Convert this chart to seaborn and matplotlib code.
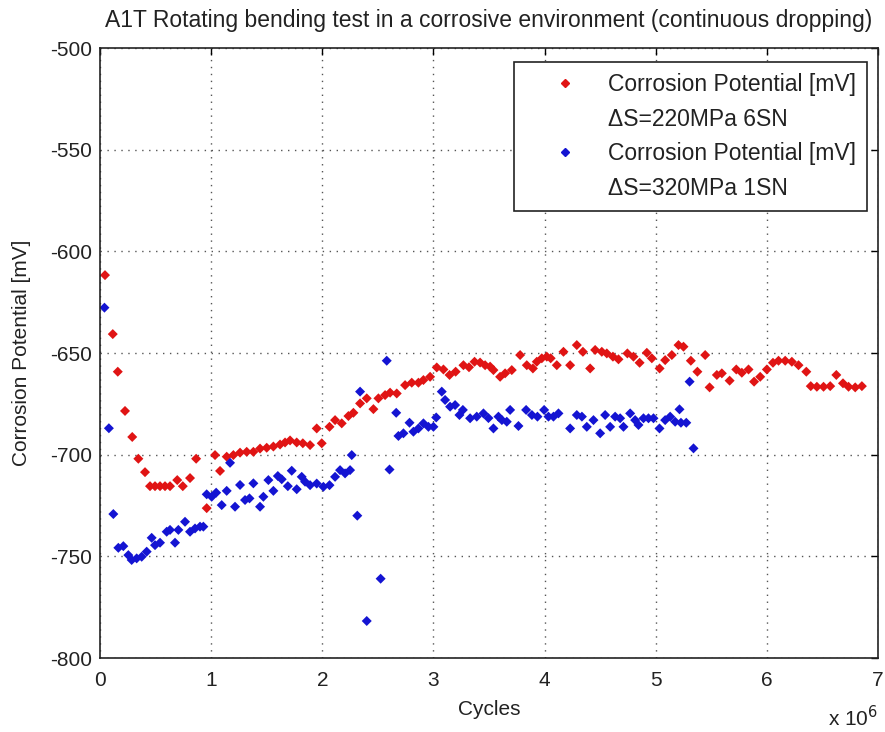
import numpy as np
import pandas as pd
import matplotlib
matplotlib.use("Agg")
import matplotlib.pyplot as plt
import seaborn as sns
from matplotlib.lines import Line2D

# ---- data (cycles in millions, potential in mV) ----
red_x = [0.045, 0.115, 0.16, 0.225, 0.29, 0.345, 0.405, 0.45, 0.495, 0.54, 0.585, 0.63,
         0.695, 0.745, 0.81, 0.865, 0.96, 1.035, 1.08, 1.14, 1.2, 1.26, 1.32, 1.38, 1.44,
         1.5, 1.56, 1.62, 1.665, 1.71, 1.77, 1.825, 1.89, 1.95, 1.995, 2.065, 2.115, 2.175,
         2.235, 2.28, 2.34, 2.4, 2.46, 2.505, 2.565, 2.61, 2.67, 2.745, 2.805, 2.865, 2.91,
         2.97, 3.03, 3.09, 3.145, 3.2, 3.27, 3.32, 3.37, 3.42, 3.465, 3.51, 3.54, 3.6, 3.645,
         3.705, 3.78, 3.84, 3.895, 3.93, 3.975, 4.02, 4.055, 4.11, 4.17, 4.23, 4.29, 4.345,
         4.41, 4.455, 4.515, 4.56, 4.615, 4.665, 4.745, 4.80, 4.855, 4.92, 4.965, 5.035,
         5.085, 5.145, 5.205, 5.25, 5.316, 5.375, 5.445, 5.485, 5.55, 5.595, 5.665, 5.725,
         5.775, 5.835, 5.885, 5.94, 6.0, 6.055, 6.105, 6.165, 6.225, 6.285, 6.355, 6.395,
         6.45, 6.51, 6.57, 6.625, 6.685, 6.735, 6.795, 6.855]
red_y = [-611.7, -640.7, -659.2, -678.5, -691.3, -702, -708.6, -715.5, -715.5, -715.5, -715.5,
         -715.5, -712.5, -715.5, -711.5, -702, -726.3, -700.2, -708, -701, -700.2, -699,
         -698.6, -698.6, -697, -696.6, -696, -695, -694, -693, -694, -694.4, -695.3, -687.1,
         -694.4, -686.3, -683, -684.6, -681, -679.4, -674.8, -672.3, -677.6, -672.3, -670.7,
         -669.5, -669.9, -665.8, -664.6, -664.6, -663.3, -661.7, -657.1, -658.1, -660.8,
         -659.2, -656, -657, -654.3, -654.7, -656, -656.7, -658.4, -661.7, -660, -658.4, -651,
         -656, -657.6, -654.3, -652.6, -651.8, -652.6, -656, -649.4, -656, -646.1, -649.4,
         -657.6, -648.5, -649.4, -650.2, -651.8, -653.1, -650.2, -651.8, -654.8, -649.9,
         -652.6, -657.6, -653.5, -651, -646.1, -646.9, -653.8, -659.2, -651, -666.9, -660.8,
         -660, -663.6, -658.1, -659.7, -658.1, -664.1, -661.7, -658.1, -654.8, -653.8,
         -653.8, -654.3, -656, -659.2, -666.3, -666.6, -666.6, -666.3, -660.8, -664.9,
         -666.6, -666.9, -666.3]

blue_x = [0.04, 0.08, 0.12, 0.165, 0.21, 0.255, 0.285, 0.33, 0.375, 0.42, 0.465, 0.495, 0.54,
          0.6, 0.63, 0.675, 0.705, 0.765, 0.81, 0.855, 0.9, 0.93, 0.96, 1.005, 1.045, 1.095,
          1.14, 1.17, 1.215, 1.26, 1.305, 1.345, 1.38, 1.44, 1.47, 1.515, 1.56, 1.6, 1.635,
          1.69, 1.725, 1.77, 1.815, 1.845, 1.89, 1.95, 2.01, 2.065, 2.115, 2.16, 2.205, 2.25,
          2.265, 2.315, 2.34, 2.4, 2.525, 2.58, 2.605, 2.665, 2.685, 2.73, 2.785, 2.82, 2.865,
          2.91, 2.955, 3.0, 3.025, 3.075, 3.105, 3.15, 3.195, 3.234, 3.265, 3.33, 3.39, 3.45,
          3.495, 3.54, 3.585, 3.616, 3.66, 3.69, 3.765, 3.834, 3.886, 3.936, 3.996, 4.035,
          4.08, 4.125, 4.23, 4.29, 4.336, 4.38, 4.44, 4.5, 4.545, 4.59, 4.635, 4.68, 4.71,
          4.77, 4.815, 4.845, 4.89, 4.935, 4.98, 5.034, 5.085, 5.13, 5.175, 5.214, 5.227,
          5.275, 5.305, 5.34]
blue_y = [-627.7, -687, -729.2, -745.8, -745, -749.4, -751.8, -751, -750.2, -747.7, -740.9,
          -744.5, -743.3, -737.9, -737, -743.3, -737, -733, -737.9, -736.3, -735.4, -735.4,
          -719.5, -720.7, -718.7, -724.8, -717.8, -704, -725.6, -714.9, -722.3, -721.5, -714.1,
          -725.6, -720.7, -712.5, -717.8, -710.5, -712.1, -715.5, -707.9, -717, -710.9, -713.3,
          -715, -714.2, -715.8, -715, -710.9, -707.6, -709.2, -707.6, -700.2, -730, -669,
          -781.8, -761, -653.8, -707.3, -679.4, -690.8, -689.5, -684.3, -688.7, -687.1, -684.6,
          -686.3, -686.3, -681.7, -669, -673.1, -676.4, -675.6, -680.5, -678, -682.1, -681.3,
          -679.7, -682, -687.1, -681.3, -683, -683.8, -678, -685.9, -678, -680.5, -681.3, -678,
          -681.3, -681.3, -679.7, -687.1, -680.5, -681.3, -686.3, -683, -689.5, -680.5, -686.3,
          -681.3, -682.1, -686.3, -679.7, -683, -685.4, -682.1, -682.1, -682.1, -687.1, -683,
          -681.3, -683.8, -677.7, -684.3, -684.3, -664.1, -696.9]

series_labels = ["Corrosion Potential [mV]\n\u0394S=220MPa 6SN",
                 "Corrosion Potential [mV]\n\u0394S=320MPa 1SN"]
title = "A1T Rotating bending test in a corrosive environment (continuous dropping)"
x_ticks = [0, 1, 2, 3, 4, 5, 6, 7]
y_ticks = [-800, -750, -700, -650, -600, -550, -500]

df = pd.concat([
    pd.DataFrame({"Cycles": red_x, "Potential": red_y, "Series": series_labels[0]}),
    pd.DataFrame({"Cycles": blue_x, "Potential": blue_y, "Series": series_labels[1]}),
], ignore_index=True)

sns.set_style("white")
plt.rcParams["font.family"] = ["Liberation Sans", "DejaVu Sans"]

fig = plt.figure(figsize=(8.85, 7.32), dpi=100)
ax = fig.add_axes([100 / 885, 74 / 732, 778 / 885, 610 / 732])

red_c = "#e01414"
blue_c = "#1414d2"
sns.scatterplot(data=df, x="Cycles", y="Potential", hue="Series",
                palette={series_labels[0]: red_c, series_labels[1]: blue_c},
                marker="D", s=26, edgecolor="none", linewidth=0, legend=False, ax=ax)

ax.set_xlim(0, 7)
ax.set_ylim(-800, -500)
ax.set_xticks(x_ticks)
ax.set_yticks(y_ticks)
ax.set_xticklabels([str(t) for t in x_ticks])
ax.set_yticklabels([str(t) for t in y_ticks])
ax.tick_params(axis="both", direction="in", length=5, width=1, color="black",
               labelsize=15, top=True, right=True, labelcolor="#222222")
ax.tick_params(axis="x", pad=9)
ax.tick_params(axis="y", pad=6)
for sp in ax.spines.values():
    sp.set_visible(True)
    sp.set_color("#222222")
    sp.set_linewidth(1.2)
ax.grid(True, linestyle=(0, (1, 4)), color="#555555", linewidth=1.0)

ax.set_xlabel("Cycles", fontsize=15, color="#222222")
ax.set_ylabel("Corrosion Potential [mV]", fontsize=15, color="#222222")
ax.xaxis.set_label_coords(0.5, -0.069)
ax.yaxis.set_label_coords(-0.089, 0.5)

fig.text(489 / 885, 1 - 20 / 732, title, ha="center", va="center", fontsize=16.5, color="#222222")
fig.text(878 / 885, 1 - 718 / 732, r"x 10$^{6}$", ha="right", va="center", fontsize=15,
         color="#222222")

handles = [
    Line2D([], [], marker="D", linestyle="none", color=red_c, markersize=4),
    Line2D([], [], marker="none", linestyle="none"),
    Line2D([], [], marker="D", linestyle="none", color=blue_c, markersize=4),
    Line2D([], [], marker="none", linestyle="none"),
]
labels = [series_labels[0].split("\n")[0], series_labels[0].split("\n")[1],
          series_labels[1].split("\n")[0], series_labels[1].split("\n")[1]]
leg = ax.legend(handles, labels, loc="upper right", bbox_to_anchor=(867 / 885, 1 - 62 / 732),
                bbox_transform=fig.transFigure, fontsize=16.5, frameon=True, fancybox=False,
                framealpha=1, edgecolor="#222222", handlelength=3.45, handletextpad=0.15,
                labelspacing=0.5, borderpad=0.5, borderaxespad=0)
leg.get_frame().set_linewidth(1.2)
for t in leg.get_texts():
    t.set_color("#222222")

fig.savefig("out.png", dpi=100)
